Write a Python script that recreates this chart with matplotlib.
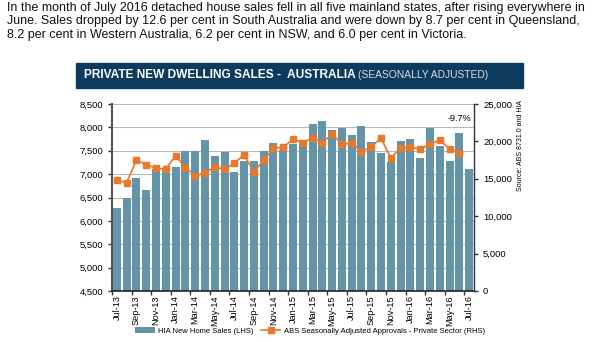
import matplotlib
matplotlib.use("Agg")
import matplotlib.pyplot as plt
from matplotlib.patches import Rectangle
from matplotlib.ticker import FuncFormatter

plt.rcParams['font.family'] = ['Liberation Sans', 'DejaVu Sans']

months = ["Jul-13", "Aug-13", "Sep-13", "Oct-13", "Nov-13", "Dec-13",
          "Jan-14", "Feb-14", "Mar-14", "Apr-14", "May-14", "Jun-14",
          "Jul-14", "Aug-14", "Sep-14", "Oct-14", "Nov-14", "Dec-14",
          "Jan-15", "Feb-15", "Mar-15", "Apr-15", "May-15", "Jun-15",
          "Jul-15", "Aug-15", "Sep-15", "Oct-15", "Nov-15", "Dec-15",
          "Jan-16", "Feb-16", "Mar-16", "Apr-16", "May-16", "Jun-16",
          "Jul-16"]
hia_sales = [6280, 6500, 6910, 6650, 7120, 7100, 7160, 7490, 7500, 7720,
             7380, 7470, 7050, 7280, 7280, 7500, 7660, 7510, 7650, 7720,
             8070, 8130, 7940, 7980, 7840, 8020, 7690, 7460, 7260, 7700,
             7750, 7340, 7990, 7610, 7280, 7870, 7110]
abs_approvals = [14800, 14500, 17500, 16900, 16400, 16300, 18100, 16500,
                 15400, 15800, 16600, 16250, 17100, 18200, 15900, 17500,
                 19100, 19200, 20300, 19800, 20500, 19800, 21000, 19600,
                 19800, 18600, 19300, 20400, 17800, 19100, 19200, 19000,
                 19600, 20200, 19000, 18500]

bar_color = "#6394a8"
line_color = "#e8782a"

fig = plt.figure(figsize=(6.0, 3.42), dpi=100)

intro = ("In the month of July 2016 detached house sales fell in all five mainland states, after rising everywhere in\n"
         "June. Sales dropped by 12.6 per cent in South Australia and were down by 8.7 per cent in Queensland,\n"
         "8.2 per cent in Western Australia, 6.2 per cent in NSW, and 6.0 per cent in Victoria.")
fig.text(7/600, 1 - 2/342, intro, ha="left", va="top", fontsize=9.0,
         linespacing=1.15, color="#111111")

# banner
fig.patches.append(Rectangle((76/600, 1 - 88/342), (523-76)/600, 25/342,
                             transform=fig.transFigure, color="#0d3b5e", zorder=0))
t1 = fig.text(84/600, 1 - 75.5/342, "PRIVATE NEW DWELLING SALES -  AUSTRALIA ",
              ha="left", va="center", fontsize=8.6, fontweight="bold", color="white")
fig.canvas.draw()
bb = t1.get_window_extent()
fig.text(bb.x1 / fig.bbox.width, 1 - 75.5/342, "(SEASONALLY ADJUSTED)",
         ha="left", va="center", fontsize=7.4, color="#d8dde3")

ax = fig.add_axes([112/600, 1 - 291/342, (474-112)/600, (291-104)/342])
x = list(range(len(months)))
ax.bar(x, hia_sales, width=0.82, color=bar_color, zorder=2,
       label="HIA New Home Sales (LHS)")
ax.set_ylim(4500, 8500)
ax.set_yticks(range(4500, 8501, 500))
ax.yaxis.set_major_formatter(FuncFormatter(lambda v, p: f"{int(v):,}"))
ax.set_xlim(-0.5, len(months) - 0.5)
ax.grid(axis="y", color="#b8b8b8", linewidth=0.8, zorder=0)
ax.set_axisbelow(True)

ax.set_xticks(x[::2])
ax.set_xticklabels(months[::2], rotation=90, fontsize=6.6)
ax.set_xticks([i - 0.5 for i in x[::2]], minor=True)
ax.tick_params(axis="x", which="major", length=0, pad=3)
ax.tick_params(axis="x", which="minor", length=3, width=1, color="#333333")
ax.tick_params(axis="y", labelsize=6.8, length=3, width=1, color="#333333")

ax.spines["top"].set_visible(False)
ax.spines["left"].set_color("#555555")
ax.spines["left"].set_linewidth(1.5)
ax.spines["bottom"].set_color("#222222")
ax.spines["bottom"].set_linewidth(1.2)
ax.spines["right"].set_visible(False)

ax2 = ax.twinx()
ax2.plot(range(len(abs_approvals)), abs_approvals, color=line_color,
         marker="s", markersize=4.5, linewidth=1.2, zorder=3,
         label="ABS Seasonally Adjusted Approvals - Private Sector (RHS)")
ax2.set_ylim(0, 25000)
ax2.set_yticks(range(0, 25001, 5000))
ax2.yaxis.set_major_formatter(FuncFormatter(lambda v, p: f"{int(v):,}"))
ax2.tick_params(axis="y", labelsize=6.8, length=3, width=1, color="#333333")
for s in ["top", "left", "bottom"]:
    ax2.spines[s].set_visible(False)
ax2.spines["right"].set_color("#333333")
ax2.spines["right"].set_linewidth(1.0)

ax.text(35, 8200, "-9.7%", ha="center", va="center", fontsize=6.5, zorder=5)

fig.text(521/600, 1 - 100/342, "Source: ABS 8731.0 and HIA", rotation=90,
         ha="center", va="top", fontsize=5.0)

h1, l1 = ax.get_legend_handles_labels()
h2, l2 = ax2.get_legend_handles_labels()
fig.legend(h1 + h2, l1 + l2, loc="center", bbox_to_anchor=(310/600, 1 - 331/342),
           ncol=2, frameon=False, fontsize=5.5, handlelength=2.6,
           columnspacing=0.9, handletextpad=0.4)

fig.savefig("out.png", dpi=100)
